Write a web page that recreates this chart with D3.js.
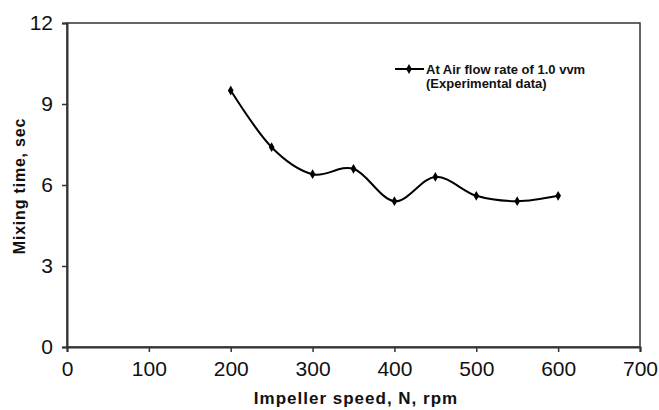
<!DOCTYPE html>
<html><head><meta charset="utf-8">
<script src="https://cdn.jsdelivr.net/npm/d3@7"></script>
<style>body{margin:0;background:#fff}svg{display:block}text{font-family:"Liberation Sans",Arial,sans-serif}</style>
</head><body>
<svg id="c" width="659" height="410"></svg>
<script>
const speeds = [200, 250, 300, 350, 400, 450, 500, 550, 600];
const mixingTimes = [9.5, 7.4, 6.4, 6.6, 5.4, 6.3, 5.6, 5.4, 5.6];
const xTicks = [0, 100, 200, 300, 400, 500, 600, 700];
const yTicks = [0, 3, 6, 9, 12];
const legendLines = ["At Air flow rate of 1.0 vvm", "(Experimental data)"];
const xTitle = "Impeller speed, N, rpm";
const yTitle = "Mixing time, sec";

const svg = d3.select("#c");
const L = 67, R = 640, T = 23, B = 347;
const x = d3.scaleLinear().domain([0, 700]).range([L, R]);
const y = d3.scaleLinear().domain([0, 12]).range([B, T]);
const axisCol = "#333";

// frame
svg.append("rect").attr("x", L).attr("y", T).attr("width", R - L).attr("height", B - T)
  .attr("fill", "none").attr("stroke", axisCol).attr("stroke-width", 1.5);

const xa = svg.append("g").attr("transform", `translate(0,${B})`)
  .call(d3.axisBottom(x).tickValues(xTicks).tickSize(5).tickPadding(9).tickFormat(d3.format("d")));
const ya = svg.append("g").attr("transform", `translate(${L},0)`)
  .call(d3.axisLeft(y).tickValues(yTicks).tickSize(5).tickPadding(9).tickFormat(d3.format("d")));
[xa, ya].forEach(g => {
  g.select(".domain").attr("stroke", axisCol).attr("stroke-width", 2);
  g.selectAll(".tick line").attr("stroke", axisCol).attr("stroke-width", 1.5);
  g.selectAll("text").attr("fill", "#111").style("font-size", "21px");
});

const data = speeds.map((s, i) => ({s, v: mixingTimes[i]}));
const line = d3.line().x(d => x(d.s)).y(d => y(d.v)).curve(d3.curveCardinal.tension(0));
svg.append("path").datum(data).attr("d", line).attr("fill", "none")
  .attr("stroke", "#000").attr("stroke-width", 2);

const diamond = d3.symbol().type(d3.symbolDiamond).size(28);
svg.selectAll(".pt").data(data).enter().append("path")
  .attr("d", diamond).attr("transform", d => `translate(${x(d.s)},${y(d.v)})`).attr("fill", "#000");

// legend
const lg = svg.append("g");
lg.append("line").attr("x1", 395).attr("x2", 424).attr("y1", 69).attr("y2", 69)
  .attr("stroke", "#000").attr("stroke-width", 2);
lg.append("path").attr("d", diamond).attr("transform", "translate(409,69)").attr("fill", "#000");
lg.selectAll("text").data(legendLines).enter().append("text")
  .attr("x", 426).attr("y", (d, i) => 74 + i * 14)
  .style("font-size", "13px").style("font-weight", "bold").attr("fill", "#111").text(d => d);

svg.append("text").attr("x", 356).attr("y", 404).attr("text-anchor", "middle")
  .style("font-size", "17px").style("font-weight", "bold").style("letter-spacing", "1px").attr("fill", "#111").text(xTitle);
svg.append("text").attr("transform", "translate(25,186) rotate(-90)").attr("text-anchor", "middle")
  .style("font-size", "16px").style("font-weight", "bold").style("letter-spacing", "0.8px").attr("fill", "#111").text(yTitle);
</script>
</body></html>
